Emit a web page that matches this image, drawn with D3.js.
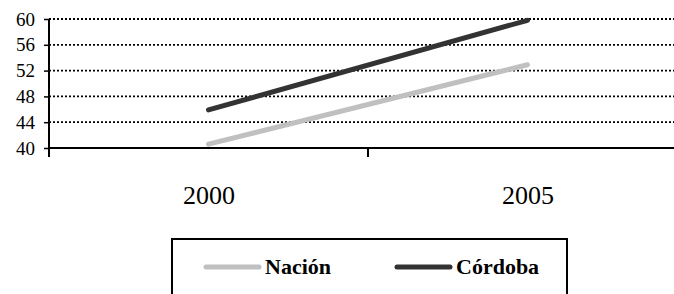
<!DOCTYPE html>
<html>
<head>
<meta charset="utf-8">
<script src="https://cdn.jsdelivr.net/npm/d3@7"></script>
<style>
  body { margin: 0; background: #fff; }
  svg { display: block; font-family: "Liberation Serif", "Times New Roman", serif; }
</style>
</head>
<body>
<div id="chart-area"></div>
<script>
// datos
var years = ["2000", "2005"];
var nacion = [40.6, 52.9];
var cordoba = [45.9, 59.8];
var yTicks = [40, 44, 48, 52, 56, 60];
var seriesNames = ["Nación", "Córdoba"];
var seriesColors = ["#c0c0c0", "#333333"];

var width = 674, height = 294;

var svg = d3.select("#chart-area").append("svg")
    .attr("width", width)
    .attr("height", height);

var pLeft = 49, pRight = 687, pTop = 19, pBottom = 148;

var x = d3.scalePoint().domain(years).range([pLeft, pRight]).padding(0.5);
var xBand = d3.scaleBand().domain(years).range([pLeft, pRight]);
var y = d3.scaleLinear().domain([40, 60]).range([pBottom, pTop]);

// lineas de grilla punteadas
svg.selectAll(".grid")
    .data(yTicks.filter(function(d) { return d != 40; }))
    .enter().append("line")
    .attr("x1", pLeft)
    .attr("x2", width)
    .attr("y1", function(d) { return y(d); })
    .attr("y2", function(d) { return y(d); })
    .attr("stroke", "#000")
    .attr("stroke-width", 1.8)
    .attr("stroke-dasharray", "2,2");

// eje Y
var yAxis = svg.append("g")
    .attr("transform", "translate(" + pLeft + ",0)")
    .call(d3.axisLeft(y).tickValues(yTicks).tickSize(5).tickPadding(9));
yAxis.attr("font-family", null);
yAxis.select(".domain").attr("stroke-width", 2).attr("d", "M0," + pTop + "V" + pBottom);
yAxis.selectAll(".tick line").attr("stroke-width", 1.5);
yAxis.selectAll("text")
    .attr("font-size", 19)
    .attr("font-family", "Liberation Serif")
    .attr("fill", "#000");

// eje X
var xAxis = svg.append("g")
    .attr("transform", "translate(0," + pBottom + ")")
    .call(d3.axisBottom(x).tickSize(0).tickPadding(38));
xAxis.attr("font-family", null);
xAxis.select(".domain").attr("stroke-width", 2).attr("d", "M" + pLeft + ",0H" + pRight);
xAxis.selectAll("text")
    .attr("font-size", 26)
    .attr("font-family", "Liberation Serif")
    .attr("fill", "#000");

// marcas entre categorias
var sepTicks = years.map(function(d) { return xBand(d); }).concat([pRight]);
svg.selectAll(".sep")
    .data(sepTicks)
    .enter().append("line")
    .attr("x1", function(d) { return d; })
    .attr("x2", function(d) { return d; })
    .attr("y1", pBottom)
    .attr("y2", pBottom + 9)
    .attr("stroke", "#000")
    .attr("stroke-width", 2);

// lineas de datos
var line = d3.line()
    .x(function(d, i) { return x(years[i]); })
    .y(function(d) { return y(d); });

[nacion, cordoba].forEach(function(serie, i) {
    svg.append("path")
        .datum(serie)
        .attr("d", line)
        .attr("fill", "none")
        .attr("stroke", seriesColors[i])
        .attr("stroke-width", 5)
        .attr("stroke-linecap", "round");
});

// leyenda
var legend = svg.append("g");
legend.append("rect")
    .attr("x", 172)
    .attr("y", 239)
    .attr("width", 395)
    .attr("height", 90)
    .attr("fill", "none")
    .attr("stroke", "#000")
    .attr("stroke-width", 2);

var legendX = [206, 397];
seriesNames.forEach(function(name, i) {
    legend.append("line")
        .attr("x1", legendX[i])
        .attr("x2", legendX[i] + 53)
        .attr("y1", 267)
        .attr("y2", 267)
        .attr("stroke", seriesColors[i])
        .attr("stroke-width", 5)
        .attr("stroke-linecap", "round");
    legend.append("text")
        .attr("x", legendX[i] + 59)
        .attr("y", 274)
        .attr("font-size", 22)
        .attr("font-weight", "bold")
        .attr("fill", "#000")
        .text(name);
});
</script>
</body>
</html>
